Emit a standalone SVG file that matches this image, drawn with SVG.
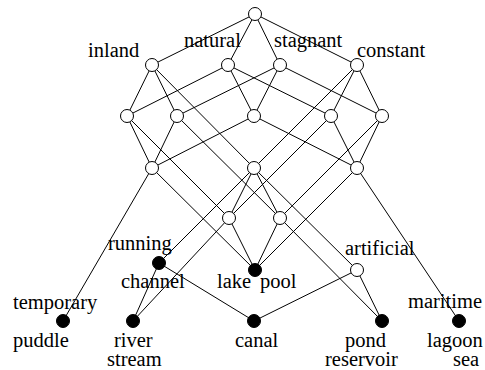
<svg xmlns="http://www.w3.org/2000/svg" width="485" height="370" viewBox="0 0 485 370">
<style>
.e{stroke:#000;stroke-width:1;fill:none}
.o{fill:#fff;stroke:#000;stroke-width:1}
.f{fill:#000;stroke:#000;stroke-width:1}
text{font-family:"Liberation Serif","Times New Roman",serif;font-size:20.5px;fill:#000}
</style>
<rect width="485" height="370" fill="#fff"/>
<g id="connectors">
<line class="e" x1="255" y1="14" x2="152" y2="65"/>
<line class="e" x1="255" y1="14" x2="228" y2="65"/>
<line class="e" x1="255" y1="14" x2="280" y2="65"/>
<line class="e" x1="255" y1="14" x2="357" y2="65"/>
<line class="e" x1="152" y1="65" x2="127" y2="116"/>
<line class="e" x1="152" y1="65" x2="177" y2="116"/>
<line class="e" x1="152" y1="65" x2="254" y2="168"/>
<line class="e" x1="228" y1="65" x2="127" y2="116"/>
<line class="e" x1="228" y1="65" x2="254" y2="116"/>
<line class="e" x1="228" y1="65" x2="331" y2="116"/>
<line class="e" x1="280" y1="65" x2="177" y2="116"/>
<line class="e" x1="280" y1="65" x2="254" y2="116"/>
<line class="e" x1="280" y1="65" x2="382" y2="116"/>
<line class="e" x1="357" y1="65" x2="331" y2="116"/>
<line class="e" x1="357" y1="65" x2="382" y2="116"/>
<line class="e" x1="357" y1="65" x2="254" y2="168"/>
<line class="e" x1="127" y1="116" x2="152" y2="168"/>
<line class="e" x1="127" y1="116" x2="229" y2="218"/>
<line class="e" x1="177" y1="116" x2="152" y2="168"/>
<line class="e" x1="177" y1="116" x2="280" y2="218"/>
<line class="e" x1="254" y1="116" x2="152" y2="168"/>
<line class="e" x1="254" y1="116" x2="357" y2="168"/>
<line class="e" x1="331" y1="116" x2="357" y2="168"/>
<line class="e" x1="331" y1="116" x2="229" y2="218"/>
<line class="e" x1="382" y1="116" x2="357" y2="168"/>
<line class="e" x1="382" y1="116" x2="280" y2="218"/>
<line class="e" x1="254" y1="168" x2="229" y2="218"/>
<line class="e" x1="254" y1="168" x2="280" y2="218"/>
<line class="e" x1="254" y1="168" x2="159" y2="263"/>
<line class="e" x1="254" y1="168" x2="357" y2="270"/>
<line class="e" x1="152" y1="168" x2="255" y2="270"/>
<line class="e" x1="152" y1="168" x2="63" y2="321"/>
<line class="e" x1="357" y1="168" x2="255" y2="270"/>
<line class="e" x1="357" y1="168" x2="459" y2="321"/>
<line class="e" x1="229" y1="218" x2="255" y2="270"/>
<line class="e" x1="229" y1="218" x2="133" y2="321"/>
<line class="e" x1="280" y1="218" x2="255" y2="270"/>
<line class="e" x1="280" y1="218" x2="382" y2="321"/>
<line class="e" x1="159" y1="263" x2="133" y2="321"/>
<line class="e" x1="159" y1="263" x2="254" y2="321"/>
<line class="e" x1="357" y1="270" x2="254" y2="321"/>
<line class="e" x1="357" y1="270" x2="382" y2="321"/>
</g>
<g id="top"><circle class="o" cx="255" cy="14" r="6.5"/></g>
<g id="inland"><circle class="o" cx="152" cy="65" r="6.5"/><text x="88" y="57">inland</text></g>
<g id="natural"><circle class="o" cx="228" cy="65" r="6.5"/><text x="184" y="47">natural</text></g>
<g id="stagnant"><circle class="o" cx="280" cy="65" r="6.5"/><text x="274" y="47">stagnant</text></g>
<g id="constant"><circle class="o" cx="357" cy="65" r="6.5"/><text x="357" y="57">constant</text></g>
<g id="inland-natural"><circle class="o" cx="127" cy="116" r="6.5"/></g>
<g id="inland-stagnant"><circle class="o" cx="177" cy="116" r="6.5"/></g>
<g id="natural-stagnant"><circle class="o" cx="254" cy="116" r="6.5"/></g>
<g id="natural-constant"><circle class="o" cx="331" cy="116" r="6.5"/></g>
<g id="stagnant-constant"><circle class="o" cx="382" cy="116" r="6.5"/></g>
<g id="inland-natural-stagnant"><circle class="o" cx="152" cy="168" r="6.5"/></g>
<g id="inland-constant"><circle class="o" cx="254" cy="168" r="6.5"/></g>
<g id="natural-stagnant-constant"><circle class="o" cx="357" cy="168" r="6.5"/></g>
<g id="inland-natural-constant"><circle class="o" cx="229" cy="218" r="6.5"/></g>
<g id="inland-stagnant-constant"><circle class="o" cx="280" cy="218" r="6.5"/></g>
<g id="running"><circle class="f" cx="159" cy="263" r="6.5"/><text x="108" y="250">running</text><text x="121" y="288">channel</text></g>
<g id="lake-pool"><circle class="f" cx="255" cy="270" r="6.5"/><text x="217" y="288">lake</text><text x="260" y="288">pool</text></g>
<g id="artificial"><circle class="o" cx="357" cy="270" r="6.5"/><text x="345" y="255">artificial</text></g>
<g id="puddle"><circle class="f" cx="63" cy="321" r="6.5"/><text x="13" y="309">temporary</text><text x="13" y="347">puddle</text></g>
<g id="river"><circle class="f" cx="133" cy="321" r="6.5"/><text x="114" y="347">river</text><text x="107" y="366">stream</text></g>
<g id="canal"><circle class="f" cx="254" cy="321" r="6.5"/><text x="235" y="347">canal</text></g>
<g id="pond"><circle class="f" cx="382" cy="321" r="6.5"/><text x="345" y="347">pond</text><text x="325" y="366">reservoir</text></g>
<g id="lagoon"><circle class="f" cx="459" cy="321" r="6.5"/><text x="408" y="308">maritime</text><text x="427" y="347">lagoon</text><text x="453" y="366">sea</text></g>
</svg>
